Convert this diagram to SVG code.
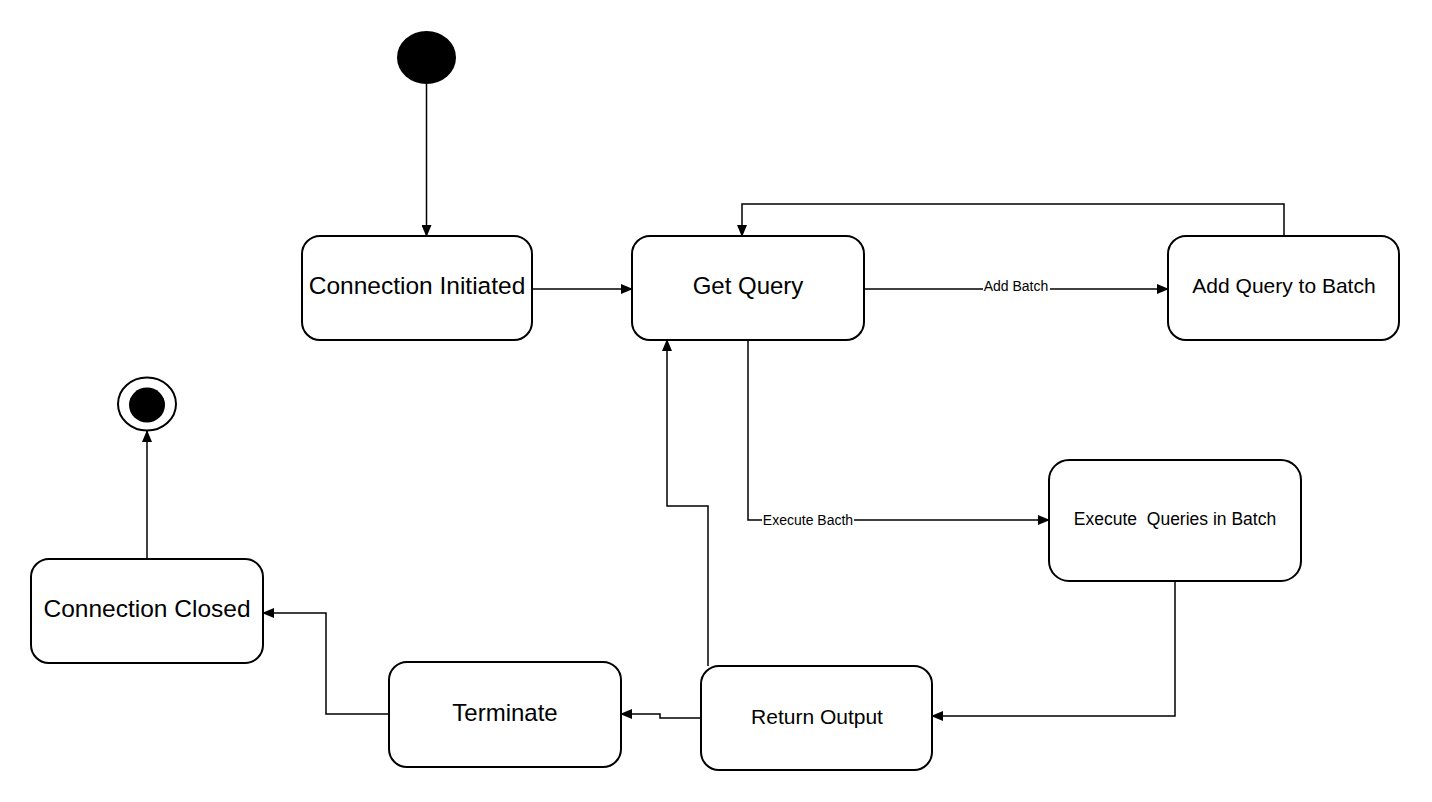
<svg xmlns="http://www.w3.org/2000/svg" width="1432" height="802" viewBox="0 0 1432 802">
<style>
.node rect{fill:#fff;stroke:#000;stroke-width:2}
.node text{font-family:"Liberation Sans",Arial,sans-serif;fill:#000;text-anchor:middle;dominant-baseline:central}
.edge{fill:none;stroke:#000;stroke-width:1.5}
.lbl{font-family:"Liberation Sans",Arial,sans-serif;font-size:14px;fill:#000;text-anchor:middle;dominant-baseline:central}
.lblbg{fill:#fff}
</style>
<defs>
<marker id="arr" markerWidth="12" markerHeight="10" refX="11" refY="5" orient="auto" markerUnits="userSpaceOnUse">
<path d="M0,0 L12,5 L0,10 Z" fill="#000"/>
</marker>
</defs>
<rect width="1432" height="802" fill="#fff"/>
<g id="start"><ellipse cx="426.5" cy="57.5" rx="29.5" ry="26.5" fill="#000"/></g>
<g id="end"><ellipse cx="147" cy="404" rx="29" ry="26.5" fill="#fff" stroke="#000" stroke-width="2"/><ellipse cx="147" cy="405" rx="18" ry="17.5" fill="#000"/></g>
<g id="connection-initiated" class="node"><rect x="302" y="236" width="230" height="104" rx="18"/><text x="417" y="285" font-size="24.5">Connection Initiated</text></g>
<g id="get-query" class="node"><rect x="632" y="236" width="232" height="104" rx="18"/><text x="748" y="285" font-size="24">Get Query</text></g>
<g id="add-query" class="node"><rect x="1168" y="236" width="231" height="104" rx="18"/><text x="1284" y="285" font-size="21">Add Query to Batch</text></g>
<g id="execute-queries" class="node"><rect x="1049" y="460" width="252" height="121" rx="20"/><text x="1175" y="519" font-size="17.5" xml:space="preserve">Execute  Queries in Batch</text></g>
<g id="return-output" class="node"><rect x="701" y="666" width="231" height="104" rx="18"/><text x="817" y="716" font-size="21">Return Output</text></g>
<g id="terminate" class="node"><rect x="389" y="662" width="232" height="105" rx="18"/><text x="505" y="712" font-size="24">Terminate</text></g>
<g id="connection-closed" class="node"><rect x="31" y="559" width="232" height="104" rx="18"/><text x="147" y="608" font-size="24.5">Connection Closed</text></g>
<g id="connectors">
<path class="edge" d="M426.5,84 V236" marker-end="url(#arr)"/>
<path class="edge" d="M532,289 H632" marker-end="url(#arr)"/>
<path class="edge" d="M864,289 H1168" marker-end="url(#arr)"/>
<rect class="lblbg" x="983" y="279" width="67" height="15"/>
<text class="lbl" x="1016" y="286">Add Batch</text>
<path class="edge" d="M1284,236 V204 H742 V236" marker-end="url(#arr)"/>
<path class="edge" d="M748,340 V520 H1049" marker-end="url(#arr)"/>
<rect class="lblbg" x="762" y="513" width="92" height="15"/>
<text class="lbl" x="808" y="520">Execute Bacth</text>
<path class="edge" d="M1175,582 V716 H932" marker-end="url(#arr)"/>
<path class="edge" d="M708,666 V506 H667 V340" marker-end="url(#arr)"/>
<path class="edge" d="M701,718 H660 V714 H621" marker-end="url(#arr)"/>
<path class="edge" d="M389,714 H326 V613 H263" marker-end="url(#arr)"/>
<path class="edge" d="M147,559 V431" marker-end="url(#arr)"/>
</g>
</svg>
